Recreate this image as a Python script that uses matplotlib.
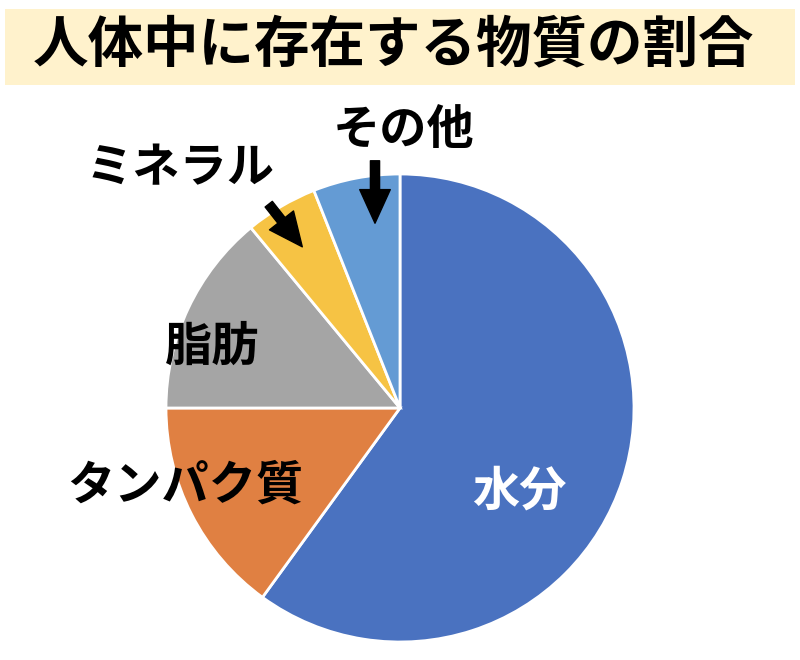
import matplotlib.pyplot as plt
from matplotlib.patches import Rectangle

plt.rcParams['font.family'] = ['Noto Sans CJK JP', 'DejaVu Sans']

# data (percent)
labels = ['水分', 'タンパク質', '脂肪', 'ミネラル', 'その他']
values = [60, 15, 14, 5, 6]
colors = ['#4A72C0', '#E08042', '#A5A5A5', '#F6C344', '#649BD4']
title = '人体中に存在する物質の割合'

W, H = 800, 660
fig = plt.figure(figsize=(W / 100, H / 100), dpi=100)

def fx(x):
    return x / W

def fy(y):
    return 1 - y / H

# pie axes: center (400, 408), radius 234 px
cx, cy, r = 400, 408, 234
ax = fig.add_axes([fx(cx - r), fy(cy + r), 2 * r / W, 2 * r / H])
ax.pie(values, colors=colors, startangle=90, counterclock=False,
       wedgeprops=dict(edgecolor='white', linewidth=2))
ax.set_aspect('equal')
ax.set_xlim(-1, 1)
ax.set_ylim(-1, 1)

# title box
fig.patches.append(Rectangle((fx(5), fy(85)), 790 / W, 76 / H,
                             transform=fig.transFigure, facecolor='#FFF2CC',
                             edgecolor='none', zorder=0))
fig.text(fx(394), fy(45), title, ha='center', va='center',
         fontsize=40, fontweight='bold', color='black')

# slice labels
label_pos = {'水分': (519, 492), 'タンパク質': (185, 486), '脂肪': (212, 347),
             'ミネラル': (180, 168), 'その他': (404, 130)}
for lab in labels:
    x, y = label_pos[lab]
    fig.text(fx(x), fy(y), lab, ha='center', va='center', fontsize=34,
             fontweight='bold', color='white' if lab == '水分' else 'black')

# arrows for the small slices
for start, end in [((375, 158), (375, 226)), ((267, 202), (304, 249))]:
    ax.annotate('', xy=(end[0], H - end[1]), xytext=(start[0], H - start[1]),
                xycoords='figure pixels', textcoords='figure pixels',
                arrowprops=dict(arrowstyle='simple,head_width=1.0,head_length=1.1,tail_width=0.3',
                                mutation_scale=22, facecolor='black', edgecolor='black'),
                annotation_clip=False)

plt.savefig('out.png', dpi=100)
